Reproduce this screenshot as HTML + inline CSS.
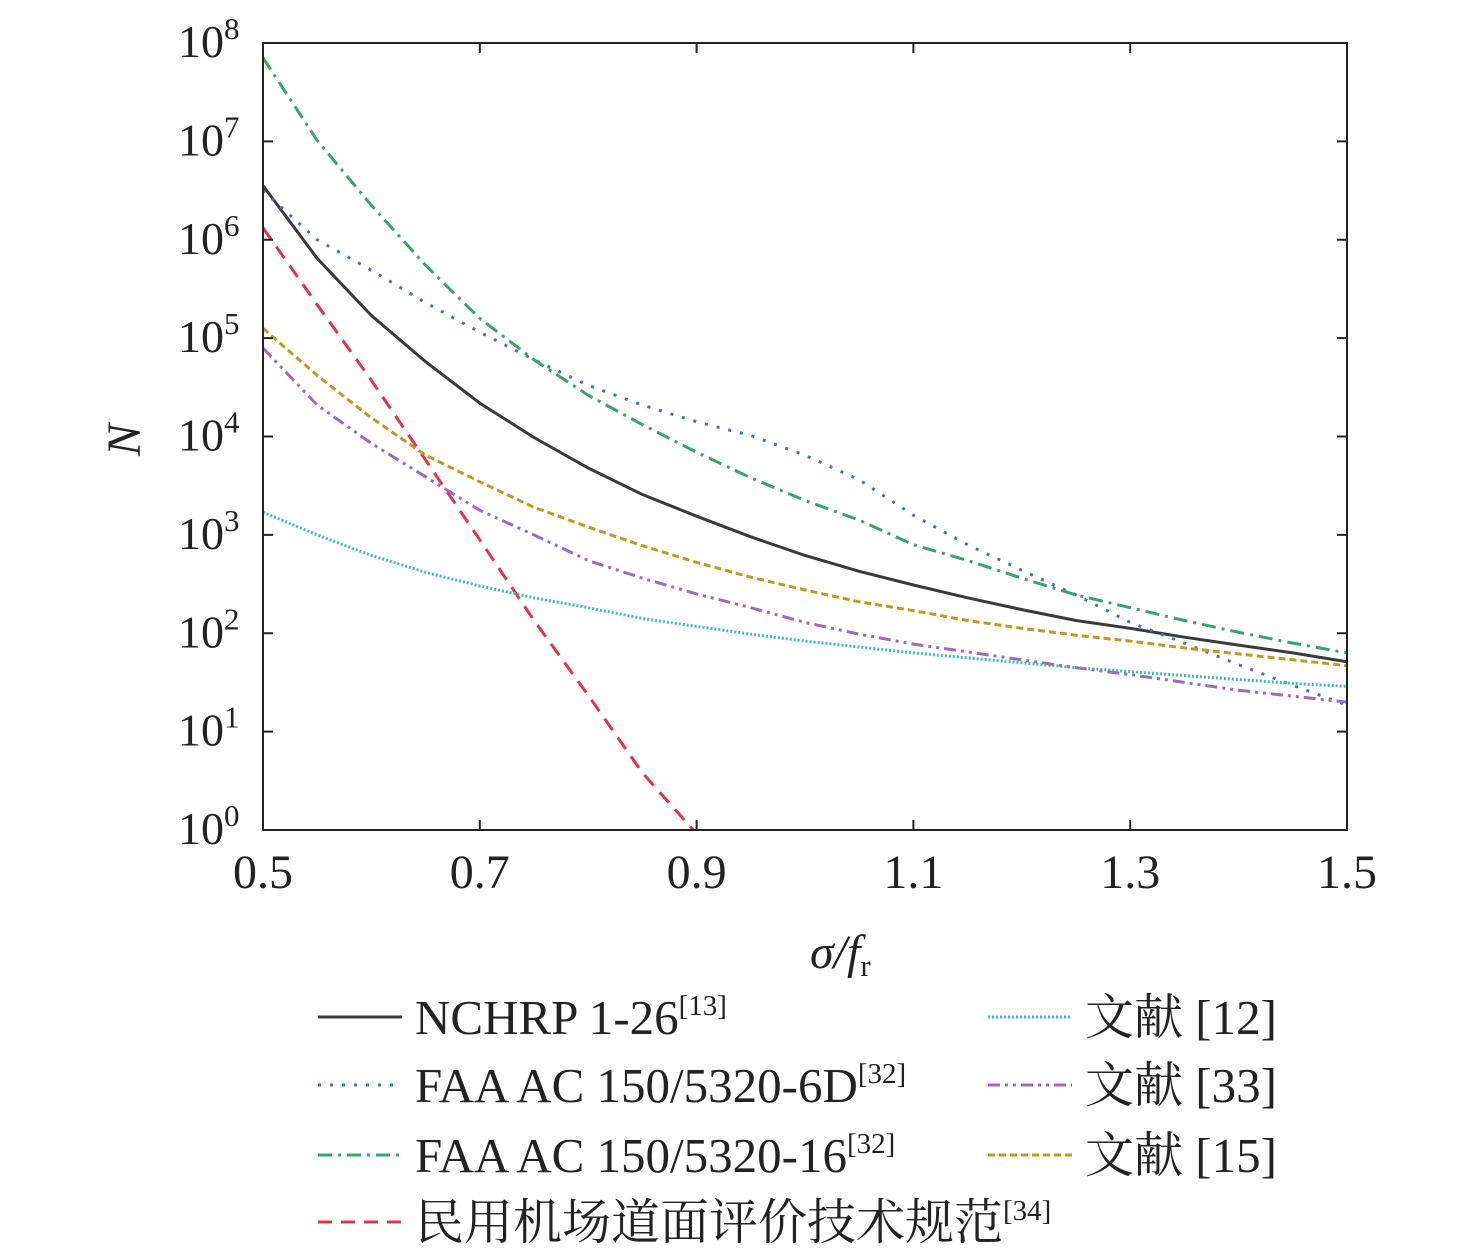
<!DOCTYPE html>
<html><head><meta charset="utf-8"><style>
body{margin:0;background:#fff;}
svg{display:block;font-family:"Liberation Serif","Noto Serif CJK SC",serif;}
</style></head><body>
<svg id="chart" width="1476" height="1257" viewBox="0 0 1476 1257" xmlns="http://www.w3.org/2000/svg">
<g id="plot"></g>
<g id="axes"></g>
<g id="legend"></g>
</svg>
<script>
const xVals=[0.5,0.55,0.6,0.65,0.7,0.75,0.8,0.85,0.9,0.95,1.0,1.05,1.1,1.15,1.2,1.25,1.3,1.35,1.4,1.45,1.5];
const nchrpLog=[6.55,5.81,5.23,4.76,4.34,3.99,3.68,3.41,3.19,2.98,2.79,2.63,2.49,2.36,2.24,2.13,2.05,1.96,1.88,1.80,1.71];
const faa6dLog=[6.5,6.0,5.69,5.36,5.06,4.78,4.52,4.32,4.15,4.01,3.81,3.56,3.2,2.9,2.64,2.39,2.11,1.90,1.68,1.47,1.27];
const faa16Log=[7.85,7.01,6.35,5.74,5.2,4.78,4.42,4.12,3.84,3.58,3.35,3.15,2.9,2.74,2.56,2.39,2.26,2.13,2.01,1.90,1.80];
const civilX=[0.5,0.55,0.6,0.65,0.7,0.75,0.8,0.85,0.897];
const civilLog=[6.12,5.34,4.57,3.76,2.95,2.13,1.37,0.58,0.0];
const ref12Log=[3.23,3.0,2.79,2.62,2.48,2.36,2.26,2.15,2.07,1.99,1.92,1.86,1.80,1.75,1.70,1.65,1.61,1.57,1.53,1.49,1.46];
const ref33Log=[4.9,4.32,3.93,3.59,3.25,3.0,2.74,2.56,2.4,2.26,2.11,1.99,1.89,1.81,1.73,1.65,1.58,1.50,1.42,1.36,1.30];
const ref15Log=[5.1,4.62,4.19,3.81,3.54,3.28,3.08,2.89,2.72,2.57,2.44,2.32,2.23,2.13,2.05,1.98,1.92,1.85,1.79,1.73,1.67];
const xTicks=[0.5,0.7,0.9,1.1,1.3,1.5];
const yTicks=[0,1,2,3,4,5,6,7,8];

const NS="http://www.w3.org/2000/svg";
const L=263,R=1347,T=43,B=830;
const sx=v=>L+(v-0.5)/1.0*(R-L);
const sy=v=>B-v/8*(B-T);
function mk(tag,attrs,parent){const e=document.createElementNS(NS,tag);for(const k in attrs)e.setAttribute(k,attrs[k]);parent.appendChild(e);return e;}
const plot=document.getElementById('plot'),axes=document.getElementById('axes'),legend=document.getElementById('legend');

const series=[
 {name:'nchrp-line',xs:xVals,ys:nchrpLog,c:'#3a3a3a',d:''},
 {name:'faa-6d-line',xs:xVals,ys:faa6dLog,c:'#4a6fc0',d:'3 9'},
 {name:'faa-16-line',xs:xVals,ys:faa16Log,c:'#3aa36a',d:'14 6 3 6'},
 {name:'civil-spec-line',xs:civilX,ys:civilLog,c:'#e0344a',d:'14 9'},
 {name:'ref12-line',xs:xVals,ys:ref12Log,c:'#3cbfb0',d:'2 2'},
 {name:'ref33-line',xs:xVals,ys:ref33Log,c:'#9a6cc0',d:'12 5 3 5 3 5'},
 {name:'ref15-line',xs:xVals,ys:ref15Log,c:'#c09a20',d:'7 4'}
];
const clip=mk('clipPath',{id:'cp'},plot);mk('rect',{x:L,y:T,width:R-L,height:B-T},clip);
series.forEach(s=>{
 const pts=s.xs.map((x,i)=>sx(x).toFixed(1)+','+sy(s.ys[i]).toFixed(1)).join(' ');
 const p=mk('polyline',{points:pts,fill:'none',stroke:s.c,'stroke-width':3,'stroke-dasharray':s.d,'clip-path':'url(#cp)'},plot);
 
 
});

const frame=mk('rect',{x:L,y:T,width:R-L,height:B-T,fill:'none',stroke:'#222','stroke-width':2},axes);


xTicks.forEach(v=>{
 const x=sx(v);
 mk('line',{x1:x,y1:B,x2:x,y2:B-10,stroke:'#222','stroke-width':2},axes);
 mk('line',{x1:x,y1:T,x2:x,y2:T+10,stroke:'#222','stroke-width':2},axes);
 const t=mk('text',{x:x,y:888,'font-size':48,'text-anchor':'middle',fill:'#222'},axes);
 t.textContent=v.toFixed(1);
 
 
});
yTicks.forEach(v=>{
 const y=sy(v);
 mk('line',{x1:L,y1:y,x2:L+10,y2:y,stroke:'#222','stroke-width':2},axes);
 mk('line',{x1:R,y1:y,x2:R-10,y2:y,stroke:'#222','stroke-width':2},axes);
 const t=mk('text',{x:178,y:y+14,'font-size':46,fill:'#222'},axes);
 t.textContent='10';
 const s=mk('tspan',{dy:-18,'font-size':31},t);s.textContent=String(v);
 
 
});
const yt=mk('text',{x:140,y:440,'font-size':48,'font-style':'italic',fill:'#222','text-anchor':'middle',transform:'rotate(-90 140 440)'},axes);
yt.textContent='N';


const xt=mk('text',{x:810,y:968,'font-size':48,'font-style':'italic',fill:'#222'},axes);
xt.textContent='σ/f';
const xs2=mk('tspan',{dy:8,'font-size':31,'font-style':'normal'},xt);xs2.textContent='r';



const legItems=[
 {i:0,x:318,y:1017,label:'NCHRP 1-26',sup:'[13]'},
 {i:1,x:318,y:1085,label:'FAA AC 150/5320-6D',sup:'[32]'},
 {i:2,x:318,y:1155,label:'FAA AC 150/5320-16',sup:'[32]'},
 {i:3,x:318,y:1222,label:'民用机场道面评价技术规范',sup:'[34]'},
 {i:4,x:988,y:1017,label:'文献 [12]',sup:''},
 {i:5,x:988,y:1085,label:'文献 [33]',sup:''},
 {i:6,x:988,y:1155,label:'文献 [15]',sup:''}
];
legItems.forEach(it=>{
 const s=series[it.i];
 const g=mk('g',{},legend);
 
 
 mk('line',{x1:it.x,y1:it.y,x2:it.x+84,y2:it.y,stroke:s.c,'stroke-width':3,'stroke-dasharray':s.d},g);
 const t=mk('text',{x:it.x+97,y:it.y+17,'font-size':49,fill:'#222'},g);
 t.textContent=it.label;
 if(it.sup){const sp=mk('tspan',{dy:-19,'font-size':29},t);sp.textContent=it.sup;}
});
</script>
</body></html>
